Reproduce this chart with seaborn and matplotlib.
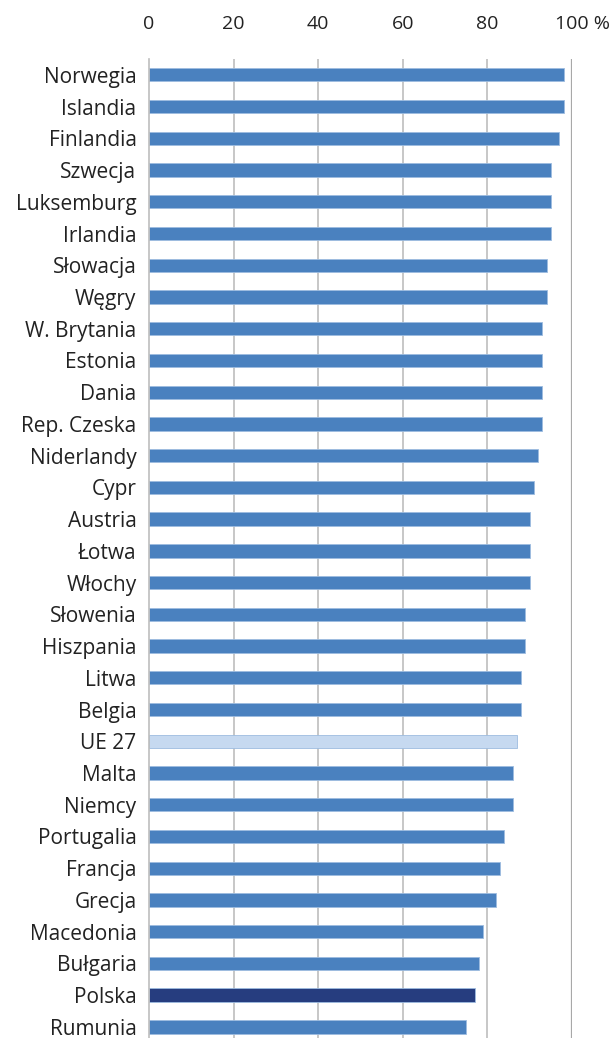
import matplotlib
matplotlib.use("Agg")
import matplotlib.pyplot as plt
import matplotlib.transforms as mtransforms
import seaborn as sns
import numpy as np
import pandas as pd

countries = ["Norwegia", "Islandia", "Finlandia", "Szwecja", "Luksemburg", "Irlandia",
             "Słowacja", "Węgry", "W. Brytania", "Estonia", "Dania", "Rep. Czeska",
             "Niderlandy", "Cypr", "Austria", "Łotwa", "Włochy", "Słowenia", "Hiszpania",
             "Litwa", "Belgia", "UE 27", "Malta", "Niemcy", "Portugalia", "Francja",
             "Grecja", "Macedonia", "Bułgaria", "Polska", "Rumunia"]
values = [98, 98, 97, 95, 95, 95, 94, 94, 93, 93, 93, 93, 92, 91, 90, 90, 90, 89, 89,
          88, 88, 87, 86, 86, 84, 83, 82, 79, 78, 77, 75]
xticks = [0, 20, 40, 60, 80, 100]
xticklabels = ["0", "20", "40", "60", "80", "100 %"]

base_color = "#4A81BF"
eu_color = "#C6D9F0"
pl_color = "#263D7F"
colors = [eu_color if c == "UE 27" else pl_color if c == "Polska" else base_color for c in countries]

df = pd.DataFrame({"country": countries, "value": values})

sns.set_theme(style="white")
plt.rcParams["font.family"] = ["Open Sans", "DejaVu Sans"]

fig = plt.figure(figsize=(6.15, 10.38), dpi=100)
ax = fig.add_axes([0.2423, 0.0, 0.9301 - 0.2423, 0.9432])

sns.barplot(data=df, y="country", x="value", hue="country", palette=colors,
            legend=False, orient="h", width=0.42, ax=ax, saturation=1,
            edgecolor="#9DBCE0", linewidth=0.6)

ax.set_xlim(0, 100)
ax.set_ylim(30.35, -0.5)
ax.set_xticks(xticks)
ax.set_xticklabels(xticklabels, fontsize=14, color="#222222")
ax.xaxis.tick_top()
ax.tick_params(axis="x", length=0, pad=19)
ax.tick_params(axis="y", length=0, pad=9, labelsize=15, labelcolor="#222222")
ax.set_xlabel("")
ax.set_ylabel("")

# shift "100 %" so that the number sits on its tick
lbl = ax.get_xticklabels()[-1]
lbl.set_transform(lbl.get_transform() + mtransforms.ScaledTranslation(0.10, 0, fig.dpi_scale_trans))

for x in xticks[1:]:
    ax.axvline(x, color="#BDBDBD", lw=1.2, zorder=0)
ax.axvline(100, color="#A8A8A8", lw=1.6, zorder=0)

for s in ["top", "right", "bottom"]:
    ax.spines[s].set_visible(False)
ax.spines["left"].set_color("#BDBDBD")
ax.spines["left"].set_linewidth(1.2)

# small boundary tick marks on the category axis
ax.set_yticks(np.arange(-0.5, len(countries) - 0.5, 1), minor=True)
ax.tick_params(axis="y", which="minor", length=4, width=1, color="#BDBDBD", direction="out")

fig.savefig("out.png", dpi=100)
